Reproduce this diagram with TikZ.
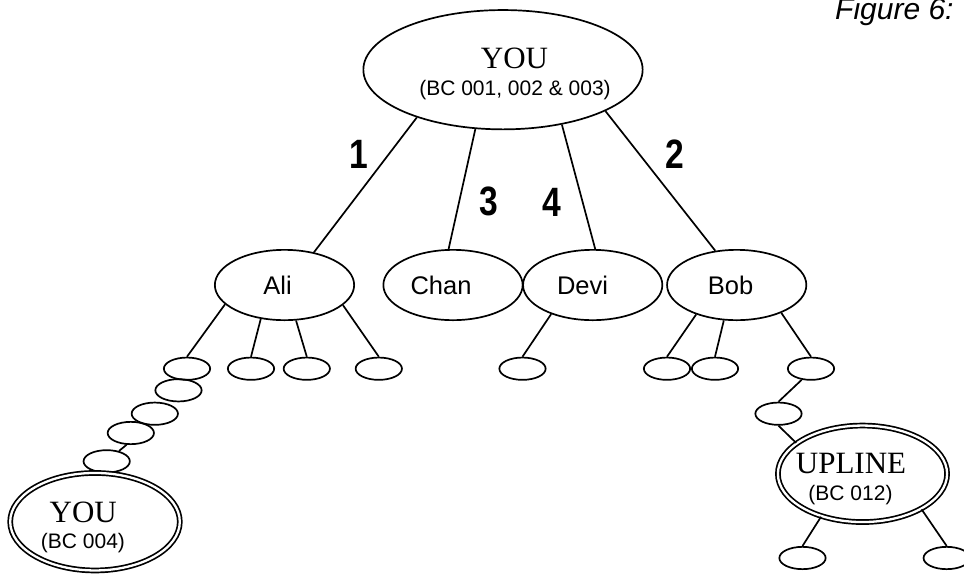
\documentclass[tikz,border=0pt]{standalone}
\usepackage{fontspec}
\setmainfont{Liberation Serif}
\newfontfamily\arialf{Liberation Sans}
\newfontfamily\numf[FakeStretch=0.82]{Liberation Sans}
\usetikzlibrary{shapes.geometric}
\newcommand\fsz[1]{\fontsize{#1}{#1}\selectfont}
\tikzset{
  bigell/.style={ellipse, draw, line width=1.7pt, minimum width=279.3pt, minimum height=119.3pt, inner sep=0pt},
  midell/.style={ellipse, draw, line width=1.7pt, minimum width=139.3pt, minimum height=70.3pt, inner sep=0pt},
  smallell/.style={ellipse, draw, line width=1.7pt, minimum width=46.3pt, minimum height=22.3pt, inner sep=0pt},
  dblell/.style={ellipse, draw, line width=1.7pt, double, double distance=2.3pt, inner sep=0pt},
  txt/.style={anchor=base, inner sep=0pt},
  serifbig/.style={txt, font=\fsz{31}},
  bcsmall/.style={txt, font=\arialf\fsz{21}},
  nametxt/.style={txt, font=\arialf\fsz{25.5}},
  numtxt/.style={txt, font=\numf\bfseries\fsz{41}},
  conn/.style={line width=1.7pt}
}
\begin{document}
\begin{tikzpicture}[x=1pt,y=-1pt]
\clip (0,0) rectangle (964,574);
\fill[white] (0,0) rectangle (964,574);

% ellipses
\node[bigell] (top) at (503,69.7) {};
\node[midell] (ali) at (284.5,285) {};
\node[midell] (chan) at (453,285) {};
\node[midell] (devi) at (592.7,285) {};
\node[midell] (bob) at (736.7,285) {};
\node[smallell] (s1) at (187,368.7) {};
\node[smallell] (s2) at (251,368.7) {};
\node[smallell] (s3) at (306.8,368.7) {};
\node[smallell] (s4) at (378.8,368.7) {};
\node[smallell] (c1) at (178.5,390.3) {};
\node[smallell] (c2) at (154.8,413.7) {};
\node[smallell] (c3) at (130.8,433) {};
\node[smallell] (c4) at (106.7,461.3) {};
\node[dblell, minimum width=169.6pt, minimum height=97.5pt] (you) at (95,521.7) {};
\node[smallell] (d1) at (522.5,368.7) {};
\node[smallell] (b1) at (667,368.7) {};
\node[smallell] (b2) at (715,368.7) {};
\node[smallell] (b3) at (811,368.7) {};
\node[smallell] (r1) at (778.5,413.7) {};
\node[dblell, minimum width=169.2pt, minimum height=96.5pt] (up) at (862.5,473.8) {};
\node[smallell] (u1) at (802.5,558) {};
\node[smallell] (u2) at (946.7,558) {};

% texts
\node[serifbig] (tyou) at (514.5,68.3) {YOU};
\node[bcsmall] (tbc1) at (515,95.3) {(BC 001, 002 \& 003)};
\node[nametxt] (tali) at (277.5,294) {Ali};
\node[nametxt] (tchan) at (441,294) {Chan};
\node[nametxt] (tdevi) at (582.5,294) {Devi};
\node[nametxt] (tbob) at (730.5,294) {Bob};
\node[serifbig] (tyou2) at (83.3,522) {YOU};
\node[bcsmall] (tbc2) at (83,548.3) {(BC 004)};
\node[serifbig] (tup) at (851,473.3) {UPLINE};
\node[bcsmall] (tbc3) at (850.5,500.3) {(BC 012)};
\node[numtxt] (n1) at (359,168) {1};
\node[numtxt] (n2) at (674.5,168) {2};
\node[numtxt] (n3) at (489,215) {3};
\node[numtxt] (n4) at (551.7,216) {4};
\node[txt, anchor=base west, font=\arialf\itshape\fsz{30}] (fig) at (835,19) {Figure 6:};

% connectors
\draw[conn] (top.209) -- (ali.48);
\draw[conn] (top.245) -- (chan.97);
\draw[conn] (top.317) -- (devi.86);
\draw[conn] (top.338) -- (bob.122);
\draw[conn] (ali.198) -- (s1.north);
\draw[conn] (ali.235) -- (s2.north);
\draw[conn] (ali.288) -- (s3.north);
\draw[conn] (ali.341) -- (s4.north);
\draw[conn] (c3.250) -- (c4.40);
\draw[conn] (devi.215) -- (d1.north);
\draw[conn] (bob.216) -- (b1.north);
\draw[conn] (bob.250) -- (b2.north);
\draw[conn] (bob.328) -- (b3.north);
\draw[conn] (b3.230) -- (r1.north);
\draw[conn] (r1.south) -- (up.155);
\draw[conn] (up.226) -- (u1.north);
\draw[conn] (up.329) -- (u2.north);
\end{tikzpicture}
\end{document}
